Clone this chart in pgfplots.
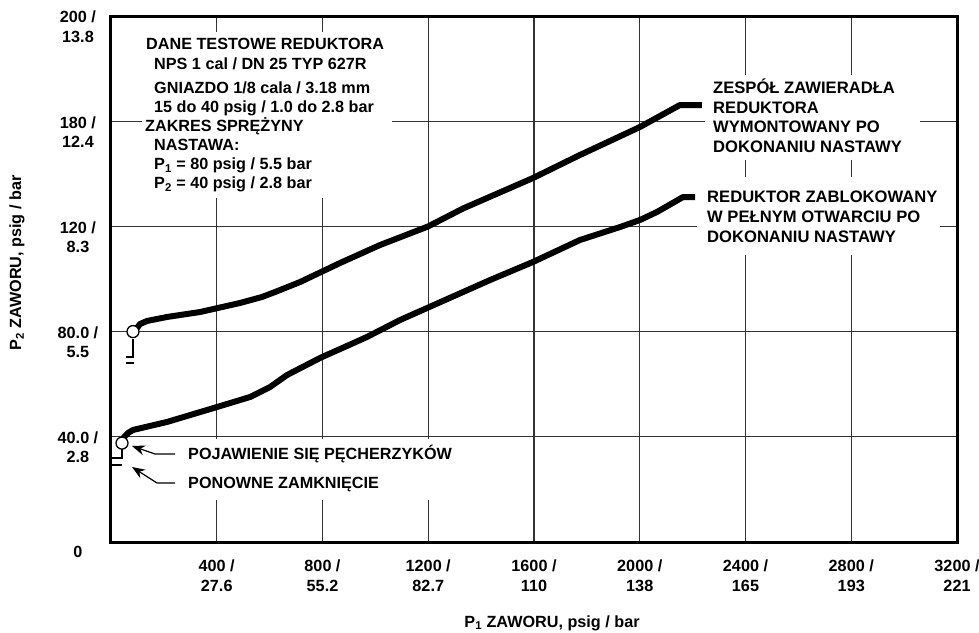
\documentclass[border=0pt]{standalone}
\usepackage{fontspec}
\setmainfont{Liberation Sans}
\usepackage{pgfplots}
\pgfplotsset{compat=1.18}
\usetikzlibrary{arrows.meta}
\newcommand\myf{\fontsize{16.2}{19.2}\selectfont\bfseries}
\newcommand\myfr{\fontsize{16.6}{19.5}\selectfont\bfseries}
\begin{document}
\begin{tikzpicture}
\useasboundingbox (0pt,0pt) rectangle (979pt,632pt);
\begin{axis}[
  at={(111pt,90pt)}, anchor=south west,
  width=846pt, height=526pt, scale only axis,
  xmin=0, xmax=3200, ymin=0, ymax=5,
  xtick={400,800,1200,1600,2000,2400,2800,3200},
  xticklabels={{400 /\\27.6},{800 /\\55.2},{1200 /\\82.7},{1600 /\\110},{2000 /\\138},{2400 /\\165},{2800 /\\193},{3200 /\\221}},
  ytick={1,2,3,4,5},
  yticklabels={{40.0 /\\2.8},{80.0 /\\5.5},{120 /\\8.3},{180 /\\12.4},{200 /\\13.8}},
  extra y ticks={0}, extra y tick labels={0},
  extra y tick style={grid=none, yticklabel style={yshift=-8.5pt}},
  major tick length=0pt,
  grid=major,
  grid style={line width=1.1pt, black!80},
  axis line style={line width=3pt},
  tick label style={font=\myf, align=center, inner sep=0pt},
  xticklabel style={anchor=north, yshift=-18pt},
  yticklabel style={anchor=north, xshift=-33pt, yshift=5pt},
  label style={font=\myf},
  xlabel={P\textsubscript{1} ZAWORU, psig / bar},
  xlabel style={at={(axis description cs:0.5213,-0.154)}, anchor=center},
  ylabel={P\textsubscript{2} ZAWORU, psig / bar},
  ylabel style={at={(axis description cs:-0.1111,0.5304)}, anchor=center},
]
% upper curve
\addplot[line width=6pt, line join=round] coordinates {
(83.2,2.0) (98.3,2.034) (109.7,2.072) (136.2,2.101) (211.8,2.139) (336.6,2.186)
(487.9,2.272) (571.2,2.329) (620.3,2.376) (714.9,2.471) (866.2,2.652) (1017.5,2.823)
(1200,3.0) (1331.4,3.170) (1596.2,3.460) (1774.0,3.679) (2000.9,3.945) (2152.2,4.154) (2235.4,4.154)};
% lower curve
\addplot[line width=6pt, line join=round] coordinates {
(41.6,0.94) (50,1.0) (64.3,1.036) (83.2,1.065) (211.8,1.141) (400.9,1.283) (525.8,1.378)
(601.4,1.473) (665.7,1.587) (790.5,1.749) (968.3,1.949) (1093.1,2.110) (1433.6,2.490)
(1596.2,2.662) (1774.0,2.871) (1925.3,2.994) (2000.9,3.061) (2065.2,3.137) (2163.6,3.279) (2209.0,3.279)};
% reseat brackets
\addplot[line width=1.2pt] coordinates {(83.2,1.93) (83.2,1.759) (56.7,1.759)};
\addplot[line width=1.2pt] coordinates {(56.7,1.702) (86.9,1.702)};
\addplot[line width=1.2pt] coordinates {(41.6,0.884) (41.6,0.798) (3.8,0.798)};
\addplot[line width=1.2pt] coordinates {(3.8,0.732) (41.6,0.732)};
% circles
\addplot[only marks, mark=*, mark size=6pt, mark options={fill=white, draw=black, line width=1.3pt}] coordinates {(83.2,2.0) (41.6,0.94)};
\end{axis}
% white backgrounds behind annotations
\fill[white] (142pt,434pt) rectangle (392pt,600pt);
\fill[white] (705pt,472pt) rectangle (920pt,557pt);
\fill[white] (697pt,377pt) rectangle (940pt,455pt);
\fill[white] (180pt,132pt) rectangle (448pt,193pt);
\begin{scope}[every node/.style={anchor=base west, inner sep=0pt, font=\myf}]
\node at (146pt,582.5pt) {DANE TESTOWE REDUKTORA};
\node at (154pt,562.5pt) {NPS 1 cal / DN 25 TYP 627R};
\node at (154pt,538.5pt) {GNIAZDO 1/8 cala / 3.18 mm};
\node at (154pt,519.5pt) {15 do 40 psig / 1.0 do 2.8 bar};
\node at (145pt,500.5pt) {ZAKRES SPRĘŻYNY};
\node at (154pt,481.5pt) {NASTAWA:};
\node at (154pt,462.5pt) {P\textsubscript{1} = 80 psig / 5.5 bar};
\node at (154pt,443.5pt) {P\textsubscript{2} = 40 psig / 2.8 bar};
\node at (188pt,172.5pt) {POJAWIENIE SIĘ PĘCHERZYKÓW};
\node at (188pt,143.5pt) {PONOWNE ZAMKNIĘCIE};
\end{scope}
\begin{scope}[every node/.style={anchor=base west, inner sep=0pt, font=\myfr}]
\node at (713pt,538.5pt) {ZESPÓŁ ZAWIERADŁA};
\node at (713pt,518.5pt) {REDUKTORA};
\node at (713pt,499.5pt) {WYMONTOWANY PO};
\node at (713pt,479.5pt) {DOKONANIU NASTAWY};
\node at (707pt,429.5pt) {REDUKTOR ZABLOKOWANY};
\node at (707pt,409.5pt) {W PEŁNYM OTWARCIU PO};
\node at (707pt,389.5pt) {DOKONANIU NASTAWY};
\end{scope}
\draw[line width=1.2pt, -{Stealth[length=13pt,width=10pt]}] (175pt,178pt) -- (155pt,178pt) -- (132pt,186pt);
\draw[line width=1.2pt, -{Stealth[length=13pt,width=10pt]}] (175pt,149pt) -- (157pt,149pt) -- (132pt,165pt);
\end{tikzpicture}
\end{document}
